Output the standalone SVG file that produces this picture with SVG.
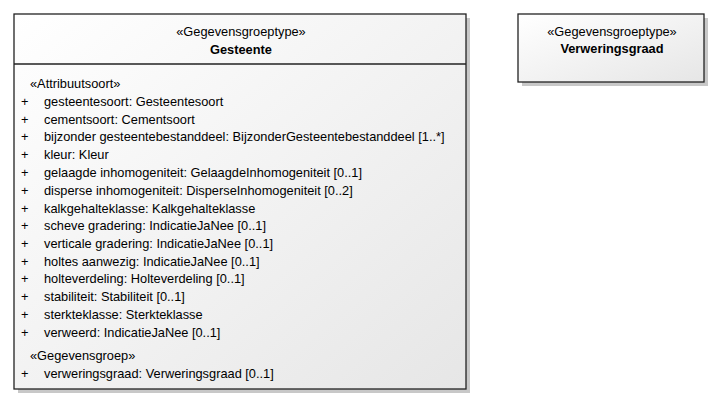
<svg xmlns="http://www.w3.org/2000/svg" width="720" height="404" viewBox="0 0 720 404">
<defs>
<linearGradient id="g" x1="0" y1="0" x2="1" y2="1">
<stop offset="0" stop-color="#ffffff"/>
<stop offset="1" stop-color="#e6e6e6"/>
</linearGradient>
<style>
.box{fill:url(#g);stroke:#222;stroke-width:1.3}
.sh{fill:#c8c8c8}
text{font-family:"Liberation Sans",Arial,sans-serif;font-size:12.8px;fill:#000}
.c{text-anchor:middle}
.b{font-weight:bold}
</style>
</defs>
<rect width="720" height="404" fill="#fff"/>
<g id="node-gesteente">
<rect class="sh" x="18" y="18" width="452" height="375"/>
<rect class="box" x="14" y="14" width="452" height="375"/>
<line x1="14" y1="64" x2="466" y2="64" stroke="#222" stroke-width="1.3"/>
<text class="c" x="241" y="35.5">«Gegevensgroeptype»</text>
<text class="c b" x="241" y="53.5">Gesteente</text>
<text x="30" y="88">«Attribuutsoort»</text>
<g>
<text x="21" y="106">+</text><text x="44" y="106">gesteentesoort: Gesteentesoort</text>
<text x="21" y="123.5">+</text><text x="44" y="123.5">cementsoort: Cementsoort</text>
<text x="21" y="141">+</text><text x="44" y="141">bijzonder gesteentebestanddeel: BijzonderGesteentebestanddeel [1..*]</text>
<text x="21" y="159">+</text><text x="44" y="159">kleur: Kleur</text>
<text x="21" y="177">+</text><text x="44" y="177">gelaagde inhomogeniteit: GelaagdeInhomogeniteit [0..1]</text>
<text x="21" y="194.5">+</text><text x="44" y="194.5">disperse inhomogeniteit: DisperseInhomogeniteit [0..2]</text>
<text x="21" y="212.5">+</text><text x="44" y="212.5">kalkgehalteklasse: Kalkgehalteklasse</text>
<text x="21" y="230">+</text><text x="44" y="230">scheve gradering: IndicatieJaNee [0..1]</text>
<text x="21" y="247.5">+</text><text x="44" y="247.5">verticale gradering: IndicatieJaNee [0..1]</text>
<text x="21" y="265.5">+</text><text x="44" y="265.5">holtes aanwezig: IndicatieJaNee [0..1]</text>
<text x="21" y="283">+</text><text x="44" y="283">holteverdeling: Holteverdeling [0..1]</text>
<text x="21" y="301">+</text><text x="44" y="301">stabiliteit: Stabiliteit [0..1]</text>
<text x="21" y="318.5">+</text><text x="44" y="318.5">sterkteklasse: Sterkteklasse</text>
<text x="21" y="336.5">+</text><text x="44" y="336.5">verweerd: IndicatieJaNee [0..1]</text>
</g>
<text x="30" y="359.5">«Gegevensgroep»</text>
<text x="21" y="377.5">+</text><text x="44" y="377.5">verweringsgraad: Verweringsgraad [0..1]</text>
</g>
<g id="node-verweringsgraad">
<rect class="sh" x="522" y="18" width="186" height="68"/>
<rect class="box" x="518" y="14" width="186" height="68"/>
<text class="c" x="612" y="36">«Gegevensgroeptype»</text>
<text class="c b" x="612" y="53">Verweringsgraad</text>
</g>
<g id="connectors"/>
</svg>
